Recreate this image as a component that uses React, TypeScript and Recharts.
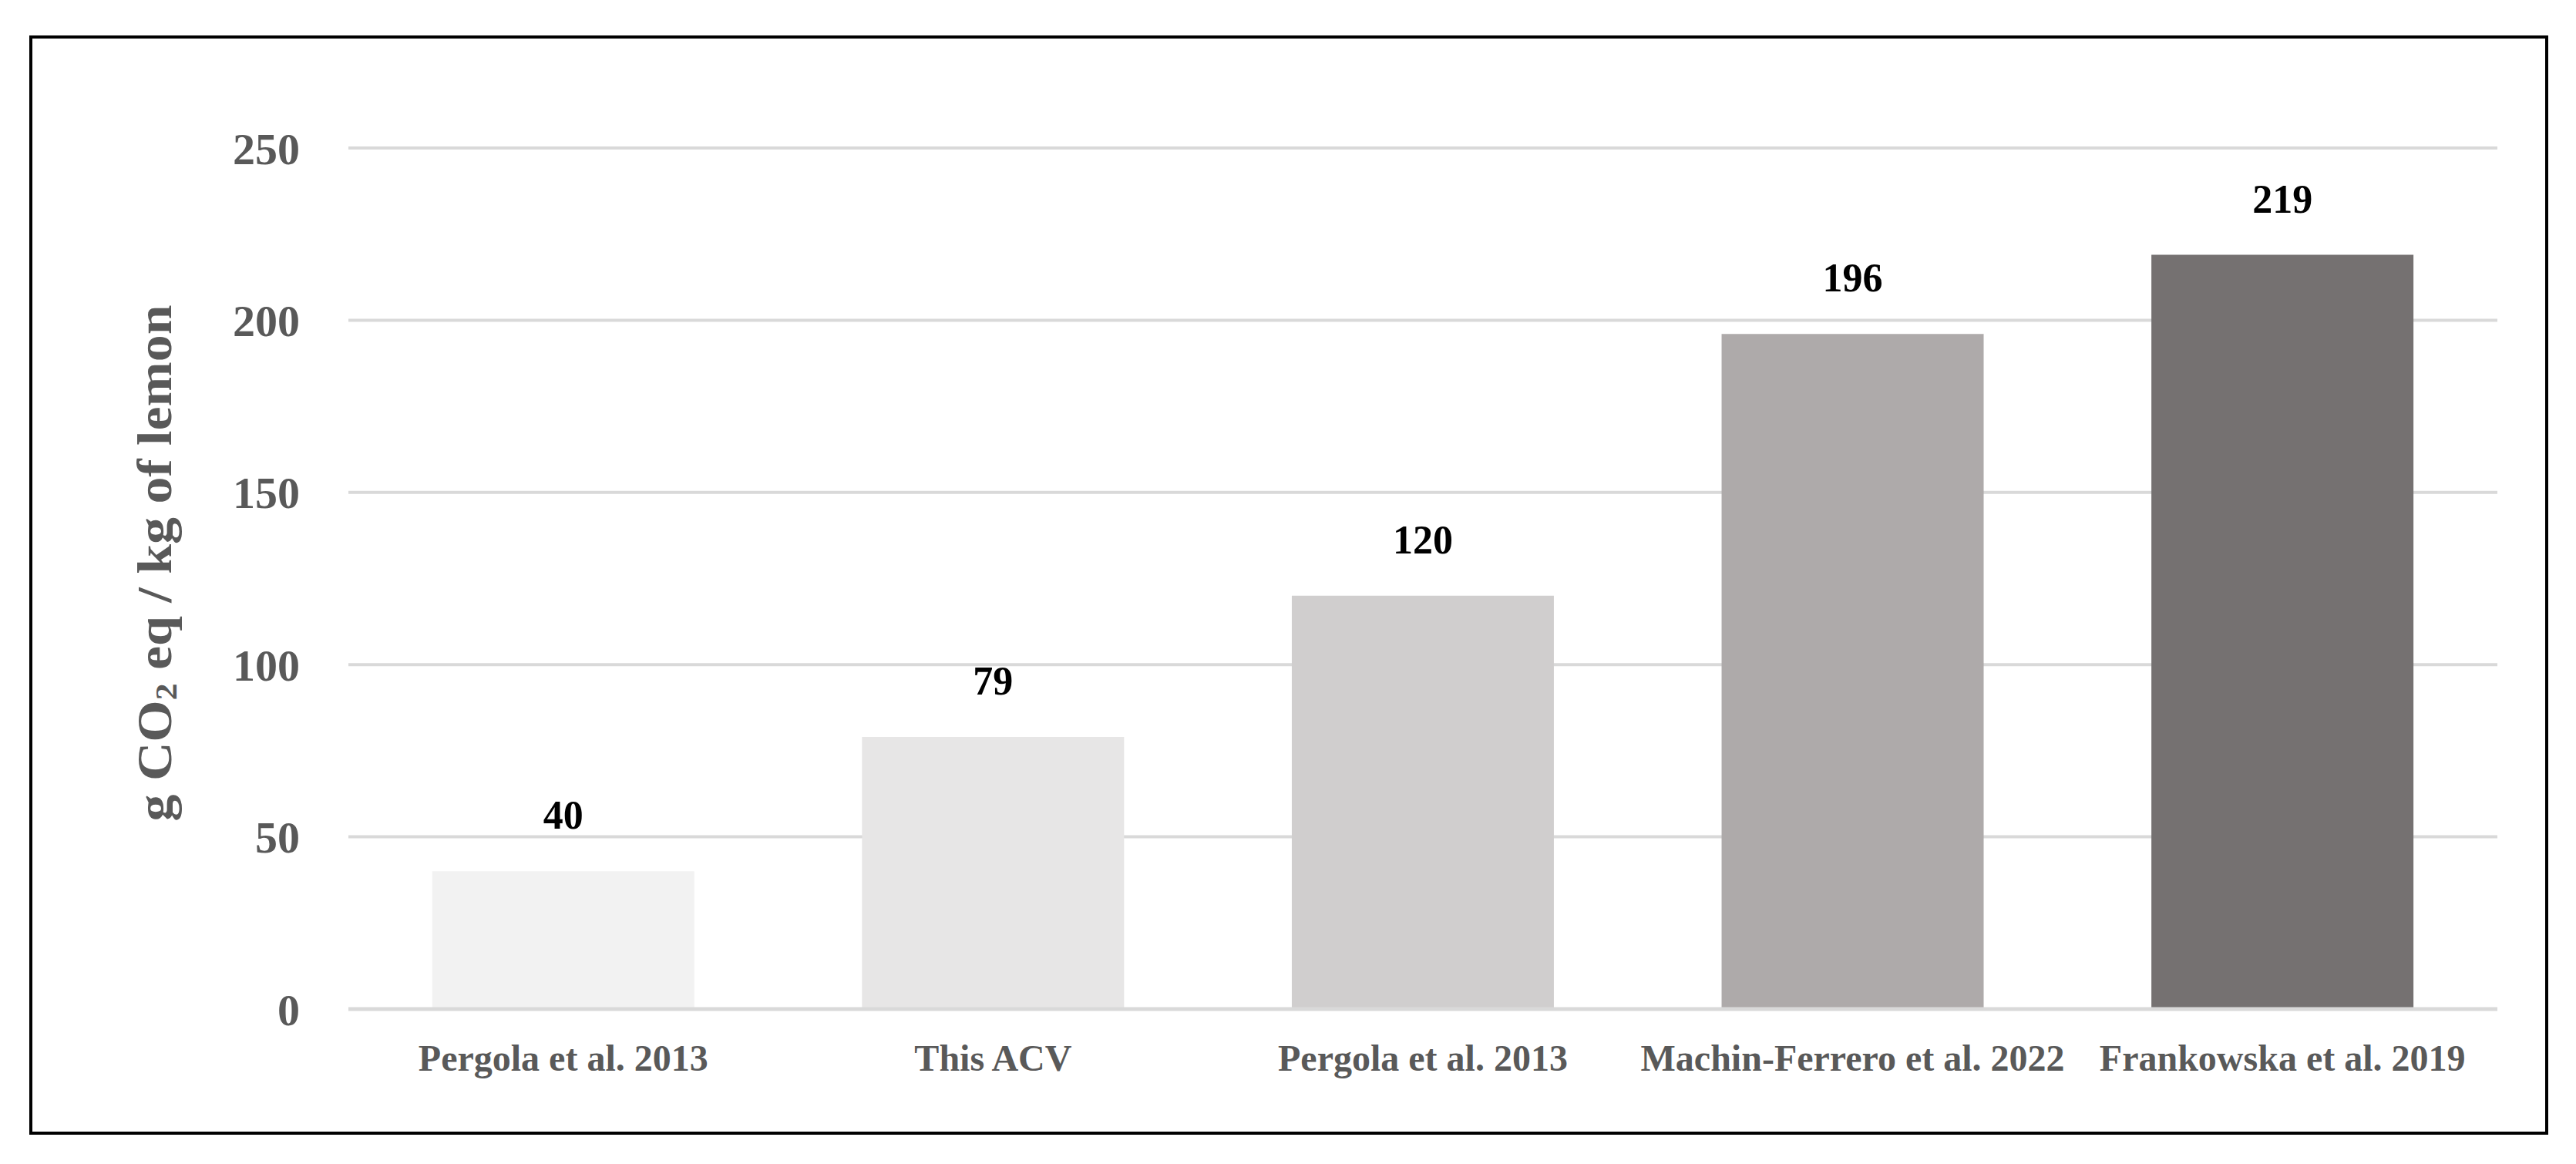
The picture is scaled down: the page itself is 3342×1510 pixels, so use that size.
import React from 'react';
import { BarChart, Bar, XAxis, YAxis, CartesianGrid, Cell, LabelList, Label } from 'recharts';

const studies = [
  "Pergola et al. 2013",
  "This ACV",
  "Pergola et al. 2013",
  "Machin-Ferrero et al. 2022",
  "Frankowska et al. 2019"
];
const emissions = [40, 79, 120, 196, 219];
const barColors = ["#F2F2F2", "#E7E6E6", "#D0CECE", "#AEAAAA", "#757171"];
const yTicks = [0, 50, 100, 150, 200, 250];

const data = studies.map((name, i) => ({ key: `s${i}`, name, value: emissions[i] }));

const font = '"Liberation Serif", "Times New Roman", serif';

const YTitle = ({ viewBox }: any) => {
  const cx = viewBox.x + 200;
  const cy = viewBox.y + viewBox.height / 2 - 20;
  return (
    <text
      x={cx}
      y={cy}
      transform={`rotate(-90 ${cx} ${cy})`}
      textAnchor="middle"
      dominantBaseline="central"
      fill="#595959"
      fontSize={64}
      fontWeight="bold"
      fontFamily={font}
      textLength={670}
      lengthAdjust="spacingAndGlyphs"
    >
      g CO<tspan fontSize={40} dy={15}>2</tspan>
      <tspan dy={-15}> eq / kg of lemon</tspan>
    </text>
  );
};

export default function App() {
  return (
    <div style={{ position: 'absolute', left: 0, top: 0, width: 3342, height: 1510, background: '#fff' }}>
      {/* frame */}
      <div
        style={{
          position: 'absolute',
          left: 38,
          top: 46,
          width: 3268,
          height: 1426,
          border: '4px solid #000',
          boxSizing: 'border-box'
        }}
      />
      <div style={{ position: 'absolute', left: 0, top: 0 }}>
        <BarChart
          width={3342}
          height={1510}
          data={data}
          margin={{ top: 192, right: 102, bottom: 141, left: 0 }}
          barCategoryGap="19.5%"
        >
          <CartesianGrid vertical={false} stroke="#D9D9D9" strokeWidth={4} />
          <XAxis
            dataKey="key"
            height={60}
            tickLine={false}
            axisLine={{ stroke: '#D9D9D9', strokeWidth: 5 }}
            tickFormatter={(_v: any, i: number) => studies[i]}
            tick={{ fill: '#595959', fontSize: 48, fontWeight: 'bold', fontFamily: font }}
            tickMargin={40}
            interval={0}
          />
          <YAxis
            width={452}
            domain={[0, 250]}
            ticks={yTicks}
            tickLine={false}
            axisLine={false}
            tickSize={0}
            tickMargin={63}
            tick={{ fill: '#595959', fontSize: 58, fontWeight: 'bold', fontFamily: font }}
          >
            <Label content={YTitle} />
          </YAxis>
          <Bar dataKey="value" isAnimationActive={false}>
            {data.map((d, i) => (
              <Cell key={d.key} fill={barColors[i]} />
            ))}
            <LabelList
              dataKey="value"
              position="top"
              offset={55}
              fill="#000"
              fontSize={52}
              fontWeight="bold"
              fontFamily={font}
            />
          </Bar>
        </BarChart>
      </div>
    </div>
  );
}
